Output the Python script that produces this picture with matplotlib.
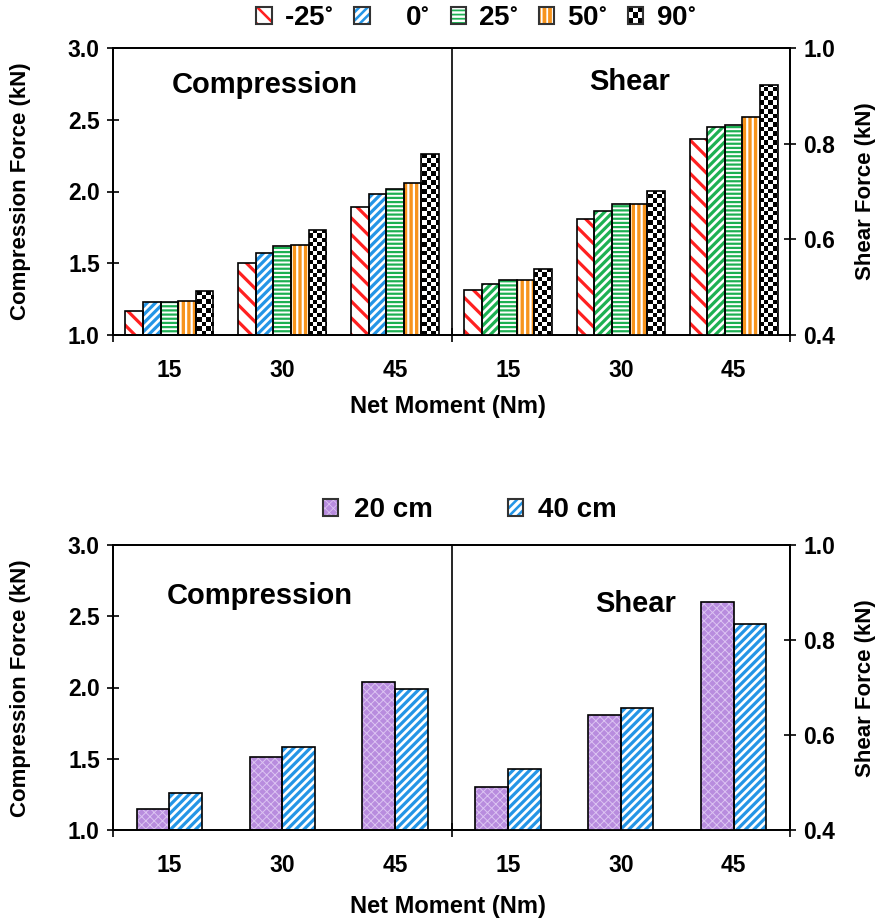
import numpy as np
import matplotlib
matplotlib.use("Agg")
import matplotlib as mpl
import matplotlib.pyplot as plt
from matplotlib.patches import Rectangle
from matplotlib.legend_handler import HandlerBase

plt.rcParams['font.family'] = ['Liberation Sans', 'DejaVu Sans']
plt.rcParams['font.weight'] = 'bold'
plt.rcParams['mathtext.default'] = 'regular'

# ---------------- data ----------------
moments = ['15', '30', '45']
angle_labels = ['-25$^{\\circ}$', '   0$^{\\circ}$', '25$^{\\circ}$', '50$^{\\circ}$', '90$^{\\circ}$']
height_labels = ['20 cm', '40 cm']

comp_m25 = [1.17, 1.50, 1.89]
comp_0 = [1.23, 1.57, 1.98]
comp_25 = [1.23, 1.62, 2.02]
comp_50 = [1.24, 1.63, 2.06]
comp_90 = [1.31, 1.73, 2.26]

shear_m25 = [0.494, 0.642, 0.810]
shear_0 = [0.507, 0.659, 0.835]
shear_25 = [0.515, 0.674, 0.838]
shear_50 = [0.516, 0.674, 0.855]
shear_90 = [0.538, 0.701, 0.923]

comp_20cm = [1.15, 1.51, 2.04]
comp_40cm = [1.26, 1.58, 1.99]
shear_20cm = [0.490, 0.643, 0.879]
shear_40cm = [0.529, 0.657, 0.834]

comp_ticks = [1.0, 1.5, 2.0, 2.5, 3.0]
shear_ticks = [0.4, 0.6, 0.8, 1.0]

# ---------------- styles ----------------
RED = '#FF2020'
BLUE = '#2495E6'
GREEN = '#1DB052'
ORANGE = '#F7941D'
PURPLE = '#B88CDE'
PURPLE_DOT = '#DCC4F2'

style_m25 = dict(face='white', hatch='\\\\', hc=RED, hlw=2.3)
style_0 = dict(face='white', hatch='////', hc=BLUE, hlw=2.3)
style_0_shear = dict(face='white', hatch='////', hc=GREEN, hlw=2.3)
style_25 = dict(face='white', hatch='----', hc=GREEN, hlw=1.6)
style_50 = dict(face=ORANGE, hatch='|||', hc='white', hlw=1.6)
style_90 = dict(checker=True)
style_20 = dict(face=PURPLE, hatch='xxxx', hc=PURPLE_DOT, hlw=0.7)
style_40 = dict(face='white', hatch='////', hc=BLUE, hlw=2.3)

EDGE_LW = 1.2
W, H = 883, 924
fig = plt.figure(figsize=(W / 100, H / 100), dpi=100)


def px_rect(l, t, r, b):
    return [l / W, 1 - b / H, (r - l) / W, (b - t) / H]


def set_hlw(patch, lw):
    if hasattr(patch, 'set_hatch_linewidth'):
        patch.set_hatch_linewidth(lw)


def draw_series(axis, x, vals, width, st, ncx, ncy):
    if st.get('checker'):
        base = axis.bar(x, vals, width, color='white', linewidth=0, zorder=2)
        x0, x1 = axis.get_xlim()
        y0, y1 = axis.get_ylim()
        img = np.add.outer(np.arange(ncy), np.arange(ncx)) % 2
        for p in base.patches:
            im = axis.imshow(img, cmap='gray', vmin=0, vmax=1, extent=(x0, x1, y0, y1),
                             origin='lower', aspect='auto', interpolation='nearest',
                             zorder=2.1)
            im.set_clip_path(p)
        axis.set_xlim(x0, x1)
        axis.set_ylim(y0, y1)
    else:
        with mpl.rc_context({'hatch.linewidth': st['hlw']}):
            bars = axis.bar(x, vals, width, facecolor=st['face'], edgecolor=st['hc'],
                            linewidth=0, hatch=st['hatch'], zorder=2)
            for p in bars.patches:
                set_hlw(p, st['hlw'])
    axis.bar(x, vals, width, fill=False, edgecolor='black', linewidth=EDGE_LW, zorder=3)


def setup_axes(rect):
    ax = fig.add_axes(rect)
    ax2 = ax.twinx()
    ax.set_xlim(-0.5, 5.5)
    ax.set_ylim(comp_ticks[0], comp_ticks[-1])
    ax2.set_ylim(shear_ticks[0], shear_ticks[-1])
    ax.set_yticks(comp_ticks)
    ax.set_yticklabels([f'{t:.1f}' for t in comp_ticks])
    ax2.set_yticks(shear_ticks)
    ax2.set_yticklabels([f'{t:.1f}' for t in shear_ticks])
    ax.set_xticks([-0.5, 2.5, 5.5])
    ax.set_xticklabels([])
    ax.set_xticks(np.arange(6), minor=True)
    ax.set_xticklabels(moments + moments, minor=True)
    ax.tick_params(axis='x', which='major', direction='inout', length=10, width=1.2)
    ax.tick_params(axis='x', which='minor', length=0, pad=17, labelsize=16.5)
    ax.tick_params(axis='y', direction='inout', length=9, width=1.2, pad=5, labelsize=16.5)
    ax2.tick_params(axis='y', direction='inout', length=9, width=1.2, pad=5, labelsize=16.5)
    for a in (ax, ax2):
        for s in a.spines.values():
            s.set_linewidth(1.3)
    ax.axvline(2.5, color='black', linewidth=1.2, zorder=4)
    return ax, ax2


ncx, ncy = int(677 / 4.4), int(287 / 4.4)

# ---------------- top chart ----------------
axT, axT2 = setup_axes(px_rect(113, 48, 790, 335))
xc = np.arange(3)
xs = np.arange(3, 6)
bw = 0.156
comp_series = [comp_m25, comp_0, comp_25, comp_50, comp_90]
shear_series = [shear_m25, shear_0, shear_25, shear_50, shear_90]
comp_styles = [style_m25, style_0, style_25, style_50, style_90]
shear_styles = [style_m25, style_0_shear, style_25, style_50, style_90]
for i in range(5):
    off = (i - 2) * bw
    draw_series(axT, xc + off, comp_series[i], bw, comp_styles[i], ncx, ncy)
    draw_series(axT2, xs + off, shear_series[i], bw, shear_styles[i], ncx, ncy)

# ---------------- bottom chart ----------------
axB, axB2 = setup_axes(px_rect(113, 545, 790, 830))
bw2 = 0.29
draw_series(axB, xc - bw2 / 2, comp_20cm, bw2, style_20, ncx, ncy)
draw_series(axB, xc + bw2 / 2, comp_40cm, bw2, style_40, ncx, ncy)
draw_series(axB2, xs - bw2 / 2, shear_20cm, bw2, style_20, ncx, ncy)
draw_series(axB2, xs + bw2 / 2, shear_40cm, bw2, style_40, ncx, ncy)


def ftext(x, y, s, **kw):
    fig.text(x / W, 1 - y / H, s, ha='center', va='center', fontweight='bold', **kw)


# panel texts
ftext(265, 85, 'Compression', fontsize=21)
ftext(630, 82, 'Shear', fontsize=21)
ftext(260, 596, 'Compression', fontsize=21)
ftext(636, 604, 'Shear', fontsize=21)

# axis labels
for yc, ylab in ((191, 407), (688, 907)):
    ftext(21, yc, 'Compression Force (kN)', fontsize=16, rotation=90)
    ftext(866, yc, 'Shear Force (kN)', fontsize=16, rotation=90)
    ftext(448, ylab, 'Net Moment (Nm)', fontsize=17)


# ---------------- legends ----------------
class SwatchHandler(HandlerBase):
    def __init__(self, st):
        super().__init__()
        self.st = st

    def create_artists(self, legend, orig_handle, xdescent, ydescent, width, height,
                       fontsize, trans):
        x0, y0 = -xdescent, -ydescent
        arts = []
        st = self.st
        if st.get('checker'):
            arts.append(Rectangle((x0, y0), width, height, facecolor='white',
                                  linewidth=0, transform=trans))
            n = 3
            cw, ch = width / n, height / n
            for i in range(n):
                for j in range(n):
                    if (i + j) % 2 == 0:
                        arts.append(Rectangle((x0 + i * cw, y0 + j * ch), cw, ch,
                                              facecolor='black', linewidth=0,
                                              transform=trans))
        else:
            with mpl.rc_context({'hatch.linewidth': st['hlw'] * 0.8}):
                r = Rectangle((x0, y0), width, height, facecolor=st['face'],
                              edgecolor=st['hc'], linewidth=0, hatch=st['hatch'],
                              transform=trans)
                set_hlw(r, st['hlw'] * 0.8)
            arts.append(r)
        arts.append(Rectangle((x0, y0), width, height, fill=False, edgecolor='#333333',
                              linewidth=1.5, transform=trans))
        return arts


top_handles = [Rectangle((0, 0), 1, 1) for _ in range(5)]
top_map = {h: SwatchHandler(s) for h, s in zip(top_handles, comp_styles)}
fig.legend(top_handles, angle_labels, handler_map=top_map, loc='center',
           bbox_to_anchor=(476 / W, 1 - 18 / H), ncol=5, frameon=False,
           prop=dict(size=20, weight='bold'), handlelength=0.55, handleheight=0.55,
           handletextpad=0.45, columnspacing=0.75)

bot_handles = [Rectangle((0, 0), 1, 1) for _ in range(2)]
bot_map = {h: SwatchHandler(s) for h, s in zip(bot_handles, [style_20, style_40])}
fig.legend(bot_handles, height_labels, handler_map=bot_map, loc='center',
           bbox_to_anchor=(470 / W, 1 - 510 / H), ncol=2, frameon=False,
           prop=dict(size=20, weight='bold'), handlelength=0.55, handleheight=0.55,
           handletextpad=0.55, columnspacing=2.7)

fig.savefig('out.png', dpi=100)
